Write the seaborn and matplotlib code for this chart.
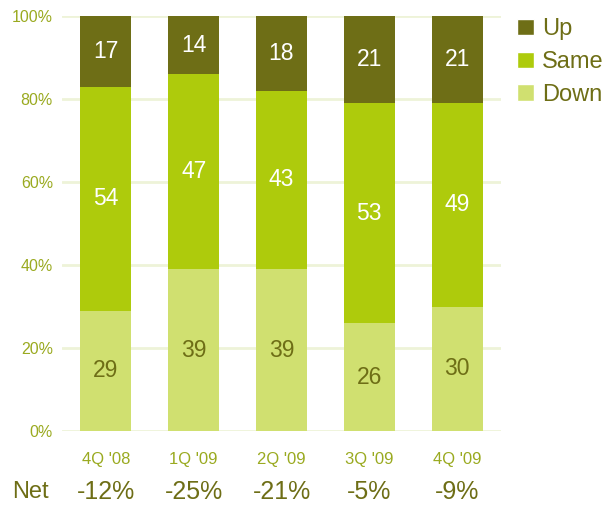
import numpy as np
import pandas as pd
import matplotlib
matplotlib.use("Agg")
import matplotlib.pyplot as plt
import seaborn as sns
from matplotlib.patches import Patch

quarters = ["4Q '08", "1Q '09", "2Q '09", "3Q '09", "4Q '09"]
down = [29, 39, 39, 26, 30]
same = [54, 47, 43, 53, 49]
up = [17, 14, 18, 21, 21]
y_ticks = [0, 20, 40, 60, 80, 100]

c_up = "#6E6E16"
c_same = "#AECB0C"
c_down = "#D0E070"
c_tick = "#9AAA20"
c_grid = "#EEF3D8"
c_text_dark = "#6E6E16"

sns.set_style("white")
plt.rcParams["font.family"] = ["Liberation Sans", "DejaVu Sans"]

fig = plt.figure(figsize=(6.12, 5.05), dpi=100)
ax = fig.add_axes([62 / 612, 74 / 505, 439 / 612, 415 / 505])

df = pd.DataFrame({"quarter": quarters, "down": down, "same": same, "up": up})
df["low"] = df["down"]
df["mid"] = df["down"] + df["same"]
df["top"] = df["mid"] + df["up"]

# stacked bars drawn back-to-front as cumulative totals
for col, color in [("top", c_up), ("mid", c_same), ("low", c_down)]:
    sns.barplot(data=df, x="quarter", y=col, order=quarters, color=color,
                width=0.58, saturation=1, linewidth=0, ax=ax, zorder=3)

lbl_size = 16.5
for i in range(len(quarters)):
    ax.text(i, down[i] / 2, str(down[i]), ha="center", va="center",
            fontsize=lbl_size, color=c_text_dark, zorder=5)
    ax.text(i, down[i] + same[i] / 2, str(same[i]), ha="center", va="center",
            fontsize=lbl_size, color="white", zorder=5)
    ax.text(i, down[i] + same[i] + up[i] / 2, str(up[i]), ha="center",
            va="center", fontsize=lbl_size, color="white", zorder=5)

ax.set_ylim(0, 100)
ax.set_xlim(-0.5, len(quarters) - 0.5)
ax.set_yticks(y_ticks)
ax.set_yticklabels([f"{v}%" for v in y_ticks], color=c_tick, fontsize=11.5)
ax.set_xticks(range(len(quarters)))
ax.set_xticklabels(quarters, color=c_tick, fontsize=12)
ax.tick_params(axis="y", length=0, pad=6.5)
ax.tick_params(axis="x", length=0, pad=15)
ax.set_xlabel("")
ax.set_ylabel("")
for s in ax.spines.values():
    s.set_visible(False)
ax.yaxis.grid(True, color=c_grid, linewidth=2, zorder=0)
ax.set_axisbelow(True)

# net balance row beneath the category labels
fig.text(30 / 612, 1 - 492 / 505, "Net", ha="center", va="center",
         fontsize=17, color=c_text_dark)
for i in range(len(quarters)):
    net = up[i] - down[i]
    x_fig = (62 + (i + 0.5) * 439 / len(quarters)) / 612
    fig.text(x_fig, 1 - 492 / 505, f"{net}%", ha="center", va="center",
             fontsize=18, color=c_text_dark)

handles = [Patch(facecolor=c_up, label="Up"),
           Patch(facecolor=c_same, label="Same"),
           Patch(facecolor=c_down, label="Down")]
leg = fig.legend(handles=handles, loc="upper left",
                 bbox_to_anchor=(508 / 612, 1 - 9 / 505), frameon=False,
                 fontsize=17, handlelength=0.7, handleheight=0.7,
                 handletextpad=0.35, labelspacing=0.45, borderaxespad=0)
for t in leg.get_texts():
    t.set_color(c_text_dark)

fig.savefig("out.png", dpi=100)
